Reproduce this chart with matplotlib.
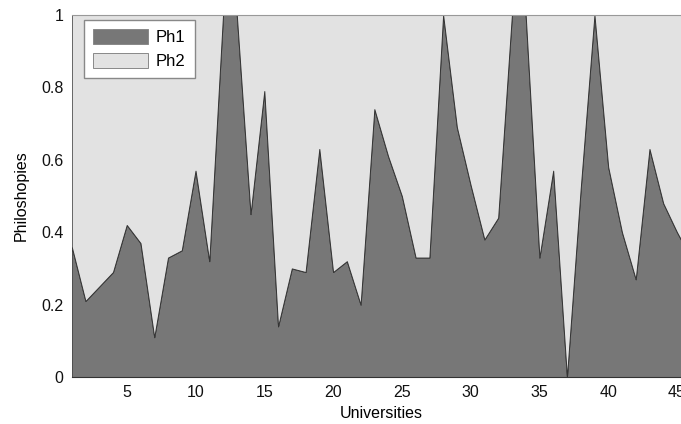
#!/usr/bin/env python3
"""Stacked area chart of two philosophies across universities."""

import matplotlib

matplotlib.use("Agg")
import matplotlib.pyplot as plt
import numpy as np

UNIVERSITIES = list(range(1, 47))
PH1 = [
    0.36, 0.21, 0.25, 0.29, 0.42, 0.37, 0.11, 0.33, 0.35, 0.57,
    0.32, 1.00, 1.00, 0.45, 0.79, 0.14, 0.30, 0.29, 0.63, 0.29,
    0.32, 0.20, 0.74, 0.61, 0.50, 0.33, 0.33, 1.00, 0.69, 0.53,
    0.38, 0.44, 1.00, 1.00, 0.33, 0.57, 0.00, 0.52, 1.00, 0.58,
    0.40, 0.27, 0.63, 0.48, 0.40, 0.33,
]
PH2 = list(1 - np.array(PH1))
SERIES_LABELS = ["Ph1", "Ph2"]
X_TICKS = [5, 10, 15, 20, 25, 30, 35, 40, 45]
Y_TICKS = [0, 0.2, 0.4, 0.6, 0.8, 1]

plt.rcParams["font.family"] = ["Liberation Sans", "DejaVu Sans"]
FONT_PT = 11.5

fig = plt.figure(figsize=(6.81, 4.24), dpi=100)
# right edge runs past the figure, as in the cropped original
ax = fig.add_axes([0.1053, 0.1108, 0.909, 0.8538])

polys = ax.stackplot(
    UNIVERSITIES,
    PH1,
    PH2,
    labels=SERIES_LABELS,
    colors=["#777777", "#e2e2e2"],
    edgecolor="#333333",
    linewidth=0.7,
)

ax.set_xlim(1, 46)
ax.set_ylim(0, 1)
ax.set_xticks(X_TICKS)
ax.set_yticks(Y_TICKS)
ax.set_yticklabels(["0", "0.2", "0.4", "0.6", "0.8", "1"])
ax.tick_params(length=0, labelsize=FONT_PT, pad=6, colors="#111111")

for side in ("left", "right"):
    ax.spines[side].set_visible(False)
ax.spines["top"].set_color("#999999")
ax.spines["bottom"].set_color("#333333")

ax.set_xlabel("Universities", fontsize=FONT_PT, labelpad=4)
ax.set_ylabel("Philoshopies", fontsize=FONT_PT, labelpad=9)

leg = ax.legend(
    loc="upper left",
    bbox_to_anchor=(0.02, 0.986),
    borderaxespad=0,
    fontsize=FONT_PT + 0.5,
    fancybox=False,
    framealpha=1,
    edgecolor="#888888",
    handlelength=3.3,
    handleheight=1.0,
    handletextpad=0.45,
    labelspacing=0.45,
    borderpad=0.55,
)
leg.get_frame().set_linewidth(1.0)
for h in leg.legend_handles:
    h.set_edgecolor("#888888")

fig.savefig("out.png", dpi=100, facecolor="white")
